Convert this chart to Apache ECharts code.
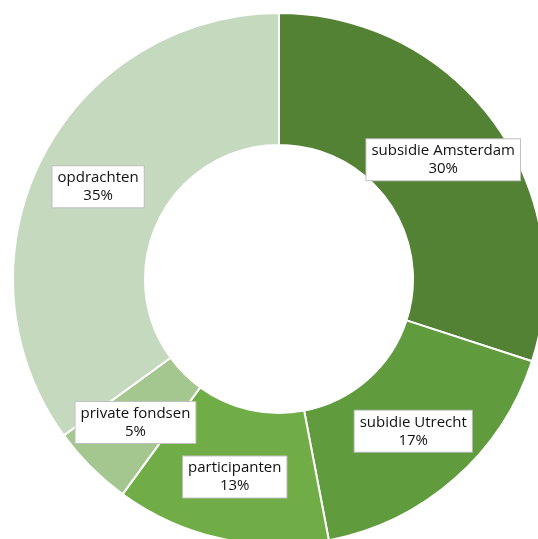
<!DOCTYPE html>
<html>
<head>
<meta charset="utf-8">
<script src="https://cdn.jsdelivr.net/npm/echarts@6/dist/echarts.min.js"></script>
<style>html,body{margin:0;padding:0;background:#fff}#c{width:538px;height:539px}</style>
</head>
<body>
<div id="c"></div>
<script>
const categories = ['subsidie Amsterdam', 'subidie Utrecht', 'participanten', 'private fondsen', 'opdrachten'];
const values = [30, 17, 13, 5, 35];
const colors = ['#548235', '#609b3e', '#70ad47', '#a4c78f', '#c5d9bf'];

const chart = echarts.init(document.getElementById('c'), null, {renderer: 'canvas'});
chart.setOption({
  animation: false,
  series: [{
    type: 'pie',
    center: [279, 279],
    radius: [134, 266],
    startAngle: 90,
    clockwise: true,
    data: categories.map((n, i) => ({name: n, value: values[i], itemStyle: {color: colors[i]}})),
    itemStyle: {borderColor: '#ffffff', borderWidth: 2},
    label: {
      show: true,
      position: 'inside',
      formatter: p => p.name + '\n' + p.value + '%',
      color: '#111',
      fontFamily: 'Open Sans',
      fontSize: 15,
      lineHeight: 18,
      backgroundColor: '#ffffff',
      borderColor: '#c0c0c0',
      borderWidth: 1,
      padding: [3, 5, 2, 5],
      align: 'center'
    },
    labelLine: {show: false},
    emphasis: {disabled: true}
  }]
});
</script>
</body>
</html>
